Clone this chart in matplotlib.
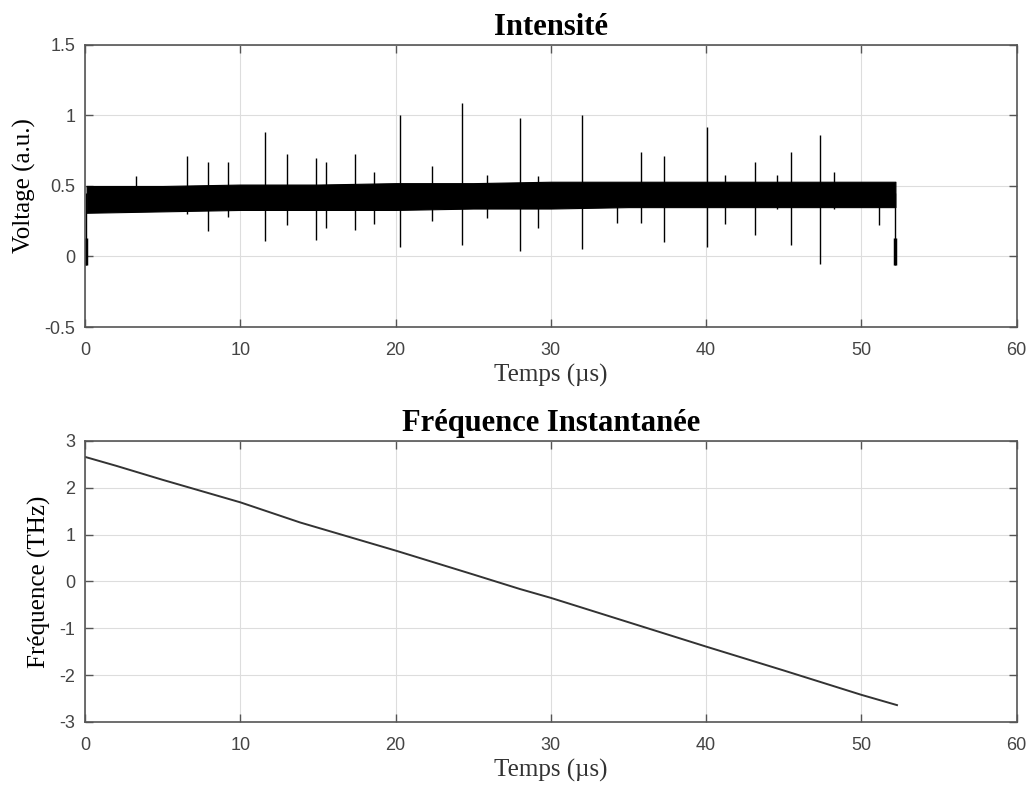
import numpy as np
import matplotlib
matplotlib.use("Agg")
import matplotlib.pyplot as plt

plt.rcParams["axes.unicode_minus"] = False

# --- Intensité : enveloppe de la bande de bruit ---
band_t = [0.1, 5, 10, 15, 20, 25, 30, 35, 40, 45, 50, 52.2]
band_hi = [0.50, 0.50, 0.51, 0.51, 0.52, 0.52, 0.53, 0.53, 0.53, 0.53, 0.53, 0.53]
band_lo = [0.31, 0.32, 0.33, 0.33, 0.33, 0.34, 0.34, 0.35, 0.35, 0.35, 0.35, 0.35]

# pics (temps, haut, bas)
spike_t = [3.27, 6.55, 7.9, 9.24, 11.62, 13.0, 14.88, 15.55, 17.42, 18.62,
           20.3, 22.38, 24.31, 25.88, 28.03, 29.17, 32.0, 34.27, 35.83,
           37.29, 40.08, 41.2, 43.13, 44.54, 45.48, 47.34, 48.22, 51.17]
spike_hi = [0.57, 0.71, 0.67, 0.67, 0.88, 0.73, 0.70, 0.67, 0.73, 0.60,
            1.00, 0.64, 1.09, 0.58, 0.98, 0.57, 1.00, 0.52, 0.74,
            0.71, 0.92, 0.58, 0.67, 0.58, 0.74, 0.86, 0.60, 0.52]
spike_lo = [0.32, 0.30, 0.18, 0.28, 0.11, 0.22, 0.12, 0.20, 0.19, 0.23,
            0.07, 0.25, 0.08, 0.27, 0.04, 0.20, 0.05, 0.24, 0.24,
            0.10, 0.07, 0.23, 0.15, 0.34, 0.08, -0.05, 0.34, 0.22]

# fronts de début/fin d'impulsion
edge_t = [0.05, 52.2]
edge_top = [0.45, 0.45]
edge_thick_top = [0.13, 0.13]
edge_bottom = [-0.06, -0.06]

# --- Fréquence instantanée ---
freq_t = [0, 2, 5, 10, 13.85, 20, 25, 28, 30, 35, 40, 45, 50, 52.3]
freq_v = [2.66, 2.47, 2.17, 1.69, 1.26, 0.66, 0.15, -0.16, -0.35,
          -0.87, -1.39, -1.90, -2.42, -2.64]

serif = "Liberation Serif"
sans = "Liberation Sans"
axcol = "#555555"

fig = plt.figure(figsize=(10.32, 7.88), dpi=100)
ax1 = fig.add_axes([0.0824, 0.585, 0.9026, 0.358])
ax2 = fig.add_axes([0.0824, 0.0838, 0.9026, 0.3566])

# intensité
ax1.fill_between(band_t, band_lo, band_hi, color="black", lw=0.8, edgecolor="black")
ax1.vlines(spike_t, spike_lo, spike_hi, color="black", lw=1.0)
ax1.vlines(edge_t, edge_bottom, edge_top, color="black", lw=1.0)
ax1.vlines(edge_t, edge_bottom, edge_thick_top, color="black", lw=2.5)
ax1.set_xlim(0, 60)
ax1.set_ylim(-0.5, 1.5)
ax1.set_yticks([-0.5, 0, 0.5, 1, 1.5])
ax1.set_yticklabels(["-0.5", "0", "0.5", "1", "1.5"])
ax1.set_title("Intensité", fontfamily=serif, fontweight="bold", fontsize=22, pad=7)
ax1.set_xlabel("Temps (µs)", fontfamily=serif, fontsize=18, color="#333333", labelpad=3)
ax1.set_ylabel("Voltage (a.u.)", fontfamily=serif, fontsize=18, color="black", labelpad=6)

# fréquence
ax2.plot(freq_t, freq_v, color="#333333", lw=1.4)
ax2.set_xlim(0, 60)
ax2.set_ylim(-3, 3)
ax2.set_yticks([-3, -2, -1, 0, 1, 2, 3])
ax2.set_title("Fréquence Instantanée", fontfamily=serif, fontweight="bold", fontsize=22, pad=7)
ax2.set_xlabel("Temps (µs)", fontfamily=serif, fontsize=18, color="#333333", labelpad=3)
ax2.set_ylabel("Fréquence (THz)", fontfamily=serif, fontsize=18, color="black", labelpad=6)

for ax in (ax1, ax2):
    ax.set_xticks(range(0, 61, 10))
    ax.grid(True, color="#dddddd", lw=0.8)
    ax.set_axisbelow(True)
    ax.tick_params(direction="in", top=True, right=True, length=6, width=1,
                   color=axcol, labelcolor="#444444", labelsize=13)
    ax.tick_params(axis="x", pad=11)
    ax.tick_params(axis="y", pad=7)
    for lbl in ax.get_xticklabels() + ax.get_yticklabels():
        lbl.set_fontfamily(sans)
    for sp in ax.spines.values():
        sp.set_color(axcol)
        sp.set_linewidth(1.2)

fig.savefig("out.png", dpi=100)
